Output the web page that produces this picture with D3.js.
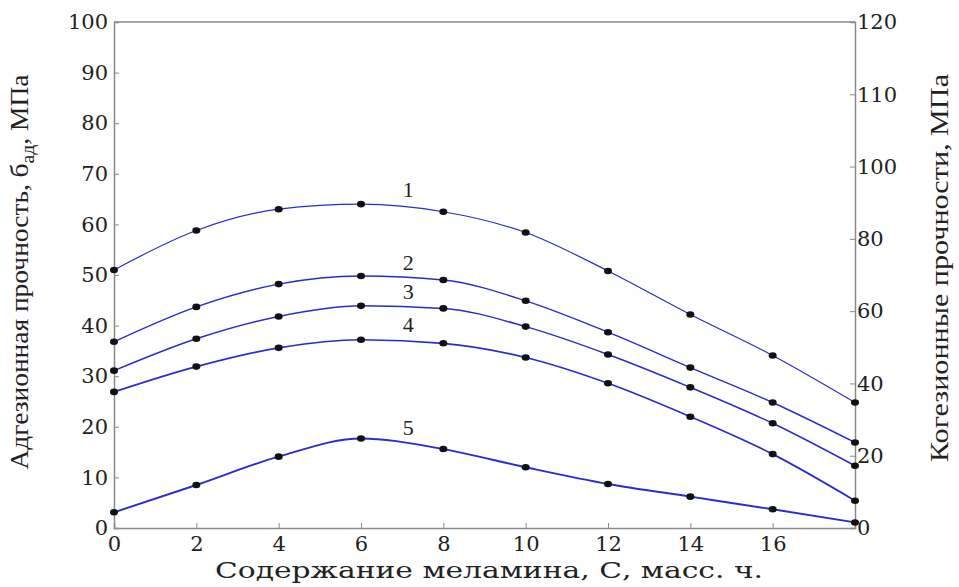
<!DOCTYPE html>
<html><head><meta charset="utf-8">
<script src="https://cdn.jsdelivr.net/npm/d3@7"></script>
<style>body{margin:0;background:#fff}svg{display:block}</style>
</head><body><svg id="c" width="959" height="587"></svg>
<script>
const xValues = [0, 2, 4, 6, 8, 10, 12, 14, 16, 18];
const series1 = [51.0, 58.8, 63.0, 64.0, 62.5, 58.4, 50.8, 42.2, 34.1, 24.8];
const series2 = [36.8, 43.7, 48.2, 49.8, 49.0, 44.9, 38.7, 31.7, 24.8, 16.9];
const series3 = [31.1, 37.4, 41.8, 43.9, 43.4, 39.8, 34.3, 27.8, 20.7, 12.3];
const series4 = [26.9, 31.9, 35.6, 37.2, 36.5, 33.7, 28.6, 22.0, 14.6, 5.4];
const series5 = [3.1, 8.5, 14.1, 17.7, 15.6, 12.0, 8.7, 6.2, 3.7, 1.1];
const seriesNames = ["1", "2", "3", "4", "5"];
const labelAt = [[7, 65.5], [7, 51], [7, 45.3], [7, 38.8], [7, 18.3]];
const xTicks = [0, 2, 4, 6, 8, 10, 12, 14, 16];
const yTicks = [0, 10, 20, 30, 40, 50, 60, 70, 80, 90, 100];
const rightTickLabels = ["0", "20", "40", "60", "80", "100", "110", "120"];

const FONT = "'Liberation Serif', 'Times New Roman', Tinos, 'DejaVu Serif', serif";
const WIDE = "'DejaVu Serif', 'Liberation Serif', serif";
const allSeries = [series1, series2, series3, series4, series5];
const widths = [1.2, 1.4, 1.5, 1.7, 1.9];

const svg = d3.select("#c");
const L = 114, R = 855, T = 22, B = 528;
const x = d3.scaleLinear().domain([0, 18]).range([L, R]);
const y = d3.scaleLinear().domain([0, 100]).range([B, T]);
const yr = d3.scaleLinear().domain([0, rightTickLabels.length - 1]).range([B, T]);

const axisColor = "#8a8a8a";
svg.append("line").attr("x1", L).attr("x2", R).attr("y1", T).attr("y2", T).attr("stroke", axisColor).attr("stroke-width", 1.5);

const gx = svg.append("g").attr("transform", `translate(0,${B})`)
  .call(d3.axisBottom(x).tickValues(xTicks).tickSize(-5).tickPadding(8).tickFormat(d3.format("d")));
const gy = svg.append("g").attr("transform", `translate(${L},0)`)
  .call(d3.axisLeft(y).tickValues(yTicks).tickSize(-5).tickPadding(6).tickFormat(d3.format("d")));
const gr = svg.append("g").attr("transform", `translate(${R},0)`)
  .call(d3.axisRight(yr).tickValues(d3.range(rightTickLabels.length)).tickSize(-5).tickPadding(2).tickFormat(i => rightTickLabels[i]));
[gx, gy, gr].forEach(g => {
  g.attr("font-family", WIDE);
  g.select(".domain").attr("stroke", axisColor).attr("stroke-width", 1.5);
  g.selectAll(".tick line").attr("stroke", axisColor);
  g.selectAll(".tick text").attr("font-family", WIDE).attr("font-size", 21).attr("fill", "#222");
});

const line = d3.line().x((d, i) => x(xValues[i])).y(d => y(d)).curve(d3.curveMonotoneX);
allSeries.forEach((s, k) => {
  svg.append("path").datum(s).attr("d", line).attr("fill", "none")
    .attr("stroke", "#2b2bd0").attr("stroke-width", widths[k]);
});
allSeries.forEach((s, k) => {
  svg.append("g").selectAll("ellipse").data(s).join("ellipse")
    .attr("cx", (d, i) => x(xValues[i])).attr("cy", d => y(d))
    .attr("rx", 4).attr("ry", 3.3).attr("fill", "#111");
});
seriesNames.forEach((n, k) => {
  svg.append("text").attr("x", x(labelAt[k][0]) + 6).attr("y", y(labelAt[k][1]))
    .attr("font-family", FONT).attr("fill", "#222")
    .attr("font-size", 22).attr("text-anchor", "middle").text(n);
});

svg.append("text").attr("x", 489).attr("y", 578).attr("text-anchor", "middle")
  .attr("font-family", WIDE).attr("fill", "#222")
  .attr("font-size", 22).attr("textLength", 548).attr("lengthAdjust", "spacingAndGlyphs")
  .text("Содержание меламина, С, масс. ч.");

const lt = svg.append("text").attr("transform", "translate(28,272) rotate(-90)")
  .attr("font-family", FONT).attr("fill", "#222")
  .attr("text-anchor", "middle").attr("font-size", 25).attr("textLength", 395).attr("lengthAdjust", "spacingAndGlyphs");
lt.append("tspan").text("Адгезионная прочность, б");
lt.append("tspan").attr("font-size", 18).attr("dy", 6).text("ад");
lt.append("tspan").attr("dy", -6).text(", МПа");

svg.append("text").attr("transform", "translate(948,268) rotate(-90)")
  .attr("font-family", FONT).attr("fill", "#222")
  .attr("text-anchor", "middle").attr("font-size", 25).attr("textLength", 388).attr("lengthAdjust", "spacingAndGlyphs")
  .text("Когезионные прочности, МПа");
</script></body></html>
